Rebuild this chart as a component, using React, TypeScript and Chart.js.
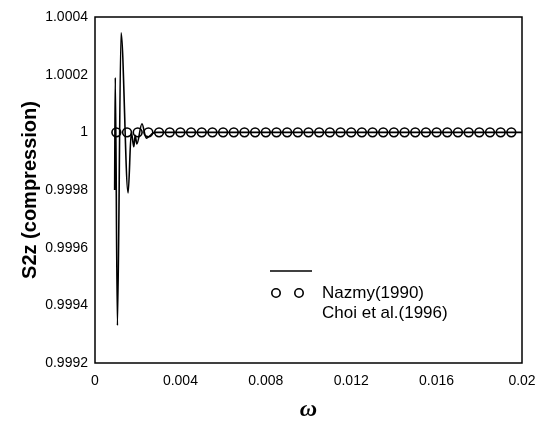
import React, { useEffect, useRef } from "react";
import { Chart, registerables } from "chart.js";

Chart.register(...registerables);

// Solid line series (omega, S2z)
const lineOmega = [0.00092, 0.00095, 0.00105, 0.00122, 0.00155, 0.0017, 0.00182, 0.00188, 0.00196, 0.0022, 0.0024, 0.0028, 0.02];
const lineS2z = [0.9998, 1.00019, 0.99933, 1.000345, 0.99979, 1.0, 0.99995, 0.99999, 0.99996, 1.00003, 0.99998, 1.0, 1.0];

// Circle series (omega, S2z)
const circleOmega = [
  0.001, 0.0015, 0.002, 0.0025, 0.003, 0.0035, 0.004, 0.0045, 0.005, 0.0055,
  0.006, 0.0065, 0.007, 0.0075, 0.008, 0.0085, 0.009, 0.0095, 0.01, 0.0105,
  0.011, 0.0115, 0.012, 0.0125, 0.013, 0.0135, 0.014, 0.0145, 0.015, 0.0155,
  0.016, 0.0165, 0.017, 0.0175, 0.018, 0.0185, 0.019, 0.0195,
];
const circleS2z = [
  1, 1, 1, 1, 1, 1, 1, 1, 1, 1,
  1, 1, 1, 1, 1, 1, 1, 1, 1, 1,
  1, 1, 1, 1, 1, 1, 1, 1, 1, 1,
  1, 1, 1, 1, 1, 1, 1, 1,
];

const legendTexts = ["Nazmy(1990)", "Choi et al.(1996)"];
const yTitle = "S2z (compression)";
const xTitle = "ω";

const boxPlugin = {
  id: "boxPlugin",
  afterDraw(chart: any) {
    const { ctx, chartArea } = chart;
    ctx.save();
    ctx.strokeStyle = "#000";
    ctx.lineWidth = 1.5;
    ctx.strokeRect(chartArea.left, chartArea.top, chartArea.right - chartArea.left, chartArea.bottom - chartArea.top);
    // legend
    const lx = chartArea.left + 175;
    const ly = chartArea.top + 254;
    ctx.beginPath();
    ctx.moveTo(lx, ly);
    ctx.lineTo(lx + 42, ly);
    ctx.lineWidth = 1.5;
    ctx.stroke();
    ctx.lineWidth = 1.6;
    [lx + 6, lx + 29].forEach((cx) => {
      ctx.beginPath();
      ctx.arc(cx, ly + 22, 4.2, 0, Math.PI * 2);
      ctx.stroke();
    });
    ctx.fillStyle = "#000";
    ctx.font = "17px 'Liberation Sans', Arial, sans-serif";
    ctx.textBaseline = "middle";
    ctx.textAlign = "left";
    ctx.fillText(legendTexts[0], lx + 52, ly + 22);
    ctx.fillText(legendTexts[1], lx + 52, ly + 42);
    ctx.restore();
  },
};

export default function App() {
  const ref = useRef<HTMLCanvasElement>(null);
  useEffect(() => {
    document.body.style.margin = "0";
    const chart = new Chart(ref.current!, {
      type: "scatter",
      data: {
        datasets: [
          {
            label: "line",
            data: lineOmega.map((x, i) => ({ x, y: lineS2z[i] })),
            showLine: true,
            borderColor: "#000",
            borderWidth: 1.6,
            pointRadius: 0,
            cubicInterpolationMode: "monotone",
          } as any,
          {
            label: "circles",
            data: circleOmega.map((x, i) => ({ x, y: circleS2z[i] })),
            showLine: false,
            borderColor: "#000",
            backgroundColor: "rgba(255,255,255,0)",
            borderWidth: 1.6,
            pointRadius: 4.4,
            pointStyle: "circle",
          },
        ],
      },
      options: {
        animation: false,
        responsive: false,
        layout: { padding: { top: 17, right: 17, left: 0, bottom: 0 } },
        plugins: { legend: { display: false }, tooltip: { enabled: false } },
        scales: {
          x: {
            type: "linear",
            min: 0,
            max: 0.02,
            afterFit: (s: any) => { s.height = 76; s.paddingLeft = 0; s.paddingRight = 0; },
            grid: { display: false, drawTicks: false },
            border: { display: false },
            ticks: {
              stepSize: 0.004,
              padding: 10,
              color: "#000",
              font: { size: 14, family: "'Liberation Sans', Arial, sans-serif" },
              callback: (v: any) => String(Number(Number(v).toFixed(4))),
              maxRotation: 0,
            },
            title: {
              display: true,
              text: xTitle,
              color: "#000",
              font: { size: 24, weight: "bold", style: "italic", family: "'Liberation Serif', 'Times New Roman', serif" },
              padding: { top: 4, bottom: 15 },
            },
          },
          y: {
            type: "linear",
            min: 0.9992,
            max: 1.0004,
            afterFit: (s: any) => { s.width = 95; s.paddingTop = 0; s.paddingBottom = 0; },
            grid: { display: false, drawTicks: false },
            border: { display: false },
            ticks: {
              stepSize: 0.0002,
              padding: 7,
              color: "#000",
              font: { size: 14, family: "'Liberation Sans', Arial, sans-serif" },
              callback: (v: any) => String(Number(Number(v).toFixed(5))),
            },
            title: {
              display: true,
              text: yTitle,
              color: "#000",
              font: { size: 20, weight: "bold", family: "'Liberation Sans', Arial, sans-serif" },
              padding: { top: 18, bottom: 0 },
            },
          },
        },
      },
      plugins: [boxPlugin],
    });
    return () => chart.destroy();
  }, []);
  return (
    <div style={{ width: 539, height: 439 }}>
      <canvas ref={ref} width={539} height={439} style={{ width: 539, height: 439 }} />
    </div>
  );
}
